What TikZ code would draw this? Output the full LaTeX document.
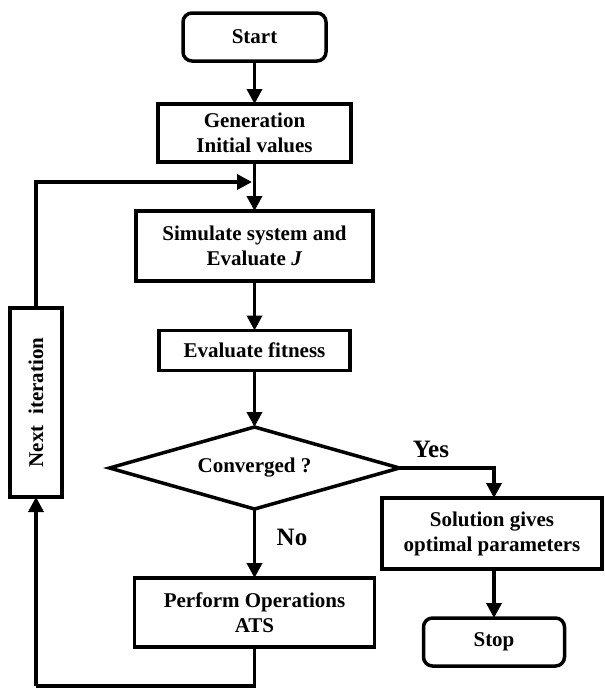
\documentclass[tikz,border=0pt]{standalone}
\usepackage{fontspec}
\setmainfont{Liberation Serif}
\usetikzlibrary{shapes.geometric,arrows.meta}
\begin{document}
\begin{tikzpicture}[x=1pt,y=-1pt,
  every node/.style={font=\fontsize{21}{25}\selectfont\bfseries, align=center, inner sep=0pt, outer sep=0pt},
  proc/.style={draw, line width=3.5pt, rectangle},
  term/.style={draw, line width=3.5pt, rectangle, rounded corners=9pt},
  dec/.style={draw, line width=3.5pt, diamond, aspect=3.5},
  lab/.style={font=\fontsize{25}{28}\selectfont\bfseries},
  conn/.style={line width=3.5pt, -{Triangle[length=15pt,width=15pt]}},
  wire/.style={line width=3.5pt}]
\useasboundingbox (0,0) rectangle (605,689);
\node[term, minimum width=143pt, minimum height=48pt] (start) at (254.5,37) {Start};
\node[proc, minimum width=193pt, minimum height=58pt] (gen) at (254.5,133) {Generation\\Initial values};
\node[proc, minimum width=237pt, minimum height=70pt] (sim) at (254.5,246) {Simulate system and\\Evaluate \textit{J}};
\node[proc, minimum width=191pt, minimum height=40pt] (fit) at (254.5,350.5) {Evaluate fitness};
\node[dec, minimum width=290pt, minimum height=82pt] (conv) at (254.5,468) {Converged ?};
\node[proc, minimum width=220pt, minimum height=71pt] (sol) at (492,533.5) {Solution gives\\optimal parameters};
\node[term, minimum width=141pt, minimum height=48pt] (stop) at (494,642) {Stop};
\node[proc, minimum width=240pt, minimum height=69pt] (perf) at (254.5,612.5) {Perform Operations\\ATS};
\node[proc, rotate=90, minimum width=189pt, minimum height=52pt] (next) at (36,402.5) {Next\ \ iteration};
\node[lab] (yes) at (431,449) {Yes};
\node[lab] (no) at (292,537) {No};
\coordinate (top) at (36,182);
\coordinate (join) at (252,182);
\coordinate (bl) at (36,686);
\coordinate (br) at (254.5,686);
\coordinate (yc) at (494,468);
\draw[conn] (start) -- (gen);
\draw[conn] (gen) -- (sim);
\draw[conn] (sim) -- (fit);
\draw[conn] (fit) -- (conv);
\draw[conn] (conv) -- (perf);
\draw[conn] (conv.east) -- (yc) -- (yc |- sol.north);
\draw[conn] (sol.south -| stop) -- (stop);
\draw[wire] (perf.south) -- (br) -- (bl);
\draw[conn] (bl) -- (next.west);
\draw[conn] (next.east) -- (top) -- (join);
\end{tikzpicture}
\end{document}
